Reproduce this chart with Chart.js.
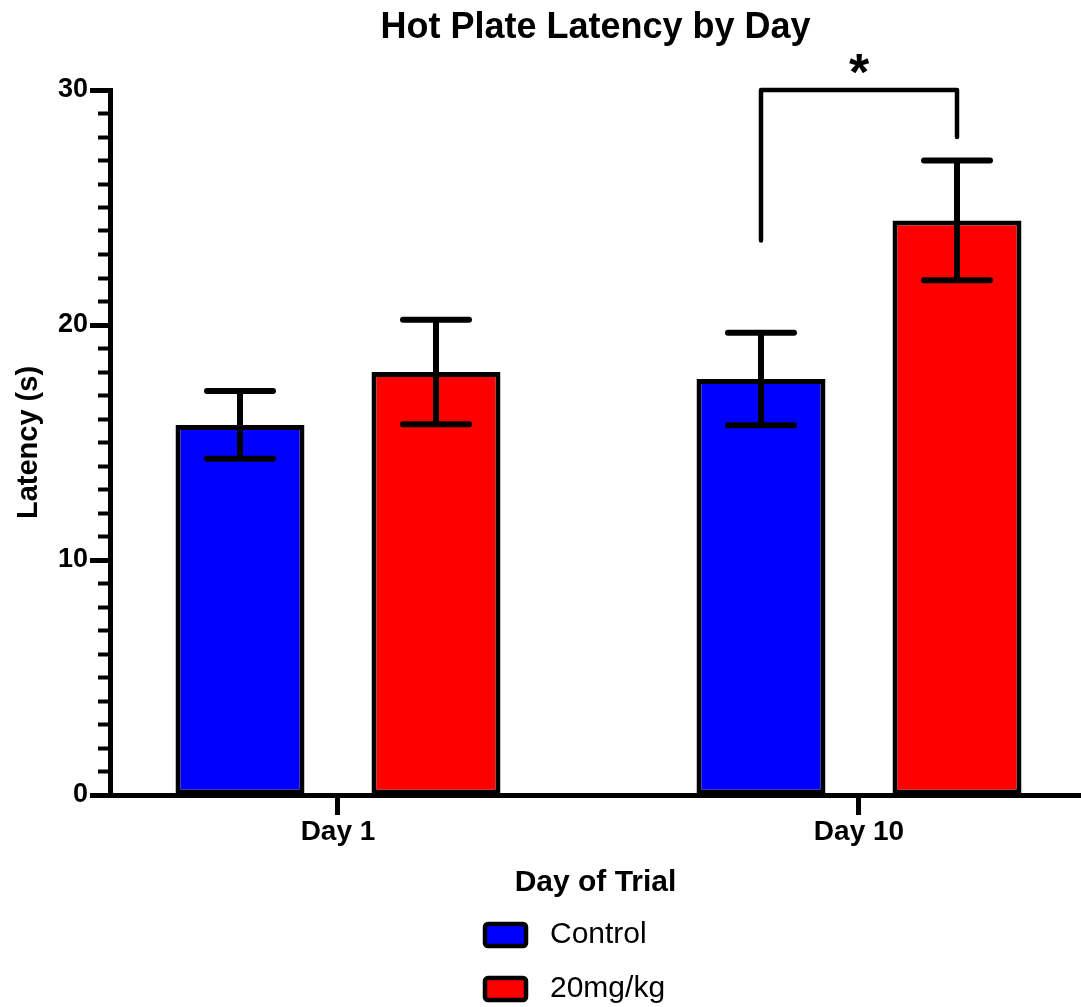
<!DOCTYPE html>
<html>
<head>
<meta charset="utf-8">
<title>Hot Plate Latency by Day</title>
<script src="https://cdn.jsdelivr.net/npm/chart.js@4.4.1/dist/chart.umd.min.js"></script>
<style>
  html, body { margin: 0; padding: 0; background: #fff; overflow: hidden; }
  #chart { display: block; }
</style>
</head>
<body>
<canvas id="chart" width="1081" height="1007"></canvas>
<script>
// data
const categories = ['Day 1', 'Day 10'];
const xPositions = [1, 2];
const seriesNames = ['Control', '20mg/kg'];
const controlMeans = [15.75, 17.7];
const controlSem = [1.44, 1.97];
const drugMeans = [18.0, 24.45];
const drugSem = [2.22, 2.55];
const yMin = 0;
const yMax = 30;
const yMajorStep = 10;
const yMinorStep = 1;

// significance bracket on Day 10 (Control vs 20mg/kg)
const sigCategory = 1;
const sigTop = 30;
const sigFeet = [23.6, 28.0];
const sigLabel = '*';

const FONT = "'Liberation Sans', Arial, Helvetica, sans-serif";
Chart.defaults.font.family = FONT;
Chart.defaults.color = '#000';

const semByDataset = [controlSem, drugSem];

// error bars, drawn over the bars
const errorBars = {
  id: 'errorBars',
  afterDatasetsDraw(chart) {
    const ctx = chart.ctx;
    const y = chart.scales.y;
    ctx.save();
    ctx.strokeStyle = '#000';
    ctx.lineWidth = 6;
    ctx.lineCap = 'round';
    chart.data.datasets.forEach((ds, d) => {
      const meta = chart.getDatasetMeta(d);
      meta.data.forEach((bar, i) => {
        const v = ds.data[i].y;
        const e = semByDataset[d][i];
        const top = y.getPixelForValue(v + e);
        const bot = y.getPixelForValue(v - e);
        ctx.beginPath();
        ctx.moveTo(bar.x, top);
        ctx.lineTo(bar.x, bot);
        ctx.moveTo(bar.x - 33, top);
        ctx.lineTo(bar.x + 33, top);
        ctx.moveTo(bar.x - 33, bot);
        ctx.lineTo(bar.x + 33, bot);
        ctx.stroke();
      });
    });
    ctx.restore();
  }
};

// bracket + star
const sigMark = {
  id: 'sigMark',
  afterDatasetsDraw(chart) {
    const ctx = chart.ctx;
    const y = chart.scales.y;
    const x1 = chart.getDatasetMeta(0).data[sigCategory].x;
    const x2 = chart.getDatasetMeta(1).data[sigCategory].x;
    const yt = y.getPixelForValue(sigTop);
    ctx.save();
    ctx.strokeStyle = '#000';
    ctx.lineWidth = 4.5;
    ctx.lineCap = 'round';
    ctx.lineJoin = 'round';
    ctx.beginPath();
    ctx.moveTo(x1, y.getPixelForValue(sigFeet[0]));
    ctx.lineTo(x1, yt);
    ctx.lineTo(x2, yt);
    ctx.lineTo(x2, y.getPixelForValue(sigFeet[1]));
    ctx.stroke();
    ctx.fillStyle = '#000';
    ctx.font = 'bold 52px ' + FONT;
    ctx.textAlign = 'center';
    ctx.textBaseline = 'alphabetic';
    const m = ctx.measureText(sigLabel);
    const cy = yt - 26;
    const base = cy + (m.actualBoundingBoxAscent - m.actualBoundingBoxDescent) / 2;
    ctx.fillText(sigLabel, (x1 + x2) / 2, base);
    ctx.restore();
  }
};

// legend stacked under the axis title
const stackedLegend = {
  id: 'stackedLegend',
  afterDraw(chart) {
    const ctx = chart.ctx;
    const left = 485;
    const top = 924;
    ctx.save();
    chart.data.datasets.forEach((ds, i) => {
      const by = top + i * 54;
      ctx.beginPath();
      ctx.roundRect(left, by, 41, 22, 3);
      ctx.fillStyle = ds.backgroundColor;
      ctx.fill();
      ctx.lineWidth = 4.5;
      ctx.strokeStyle = '#000';
      ctx.stroke();
      ctx.fillStyle = '#000';
      ctx.font = '30px ' + FONT;
      ctx.textAlign = 'left';
      ctx.textBaseline = 'middle';
      ctx.fillText(ds.label, 550, by + 11);
    });
    ctx.restore();
  }
};

new Chart(document.getElementById('chart'), {
  type: 'bar',
  data: {
    datasets: [
      {
        label: seriesNames[0],
        data: controlMeans.map((v, i) => ({ x: xPositions[i], y: v })),
        backgroundColor: '#0000ff',
        borderColor: '#000',
        borderWidth: 5,
        borderSkipped: false
      },
      {
        label: seriesNames[1],
        data: drugMeans.map((v, i) => ({ x: xPositions[i], y: v })),
        backgroundColor: '#ff0000',
        borderColor: '#000',
        borderWidth: 5,
        borderSkipped: false
      }
    ]
  },
  options: {
    responsive: false,
    animation: false,
    categoryPercentage: 0.7524,
    barPercentage: 0.658,
    layout: { padding: { left: 0, right: 0, top: 0, bottom: 106 } },
    plugins: {
      legend: { display: false },
      tooltip: { enabled: false },
      title: {
        display: true,
        text: 'Hot Plate Latency by Day',
        fullSize: false,
        font: { size: 36, weight: 'bold' },
        color: '#000',
        padding: { top: 6, bottom: 40.8 }
      }
    },
    scales: {
      x: {
        type: 'linear',
        position: 'bottom',
        min: 0.5624,
        max: 2.4261,
        offset: false,
        afterBuildTicks: (s) => { s.ticks = xPositions.map(v => ({ value: v })); },
        afterFit: (s) => { s.height = 106; },
        grid: {
          display: true,
          offset: false,
          drawOnChartArea: false,
          drawTicks: true,
          tickLength: 20,
          tickWidth: 5,
          tickColor: '#000'
        },
        border: { display: true, color: '#000', width: 5 },
        ticks: {
          padding: 0,
          maxRotation: 0,
          autoSkip: false,
          font: { size: 28, weight: 'bold' },
          color: '#000',
          callback: (v) => categories[xPositions.indexOf(v)]
        },
        title: {
          display: true,
          text: 'Day of Trial',
          font: { size: 30, weight: 'bold' },
          color: '#000',
          padding: { top: 0, bottom: 0 }
        }
      },
      y: {
        position: 'left',
        weight: 1,
        min: yMin,
        max: yMax,
        afterFit: (s) => { s.width = 110; },
        grid: {
          display: true,
          drawOnChartArea: false,
          drawTicks: true,
          tickLength: 20,
          tickWidth: 5,
          tickColor: '#000'
        },
        border: { display: true, color: '#000', width: 5 },
        ticks: {
          stepSize: yMajorStep,
          padding: 2,
          font: { size: 27, weight: 'bold' },
          color: '#000'
        },
        title: {
          display: true,
          text: 'Latency (s)',
          font: { size: 29, weight: 'bold' },
          color: '#000',
          padding: { top: 12, bottom: 0 }
        }
      },
      yMinor: {
        position: 'left',
        weight: 0,
        min: yMin,
        max: yMax,
        afterFit: (s) => { s.width = 0; },
        grid: {
          display: true,
          drawOnChartArea: false,
          drawTicks: true,
          tickLength: 12,
          tickWidth: 4,
          tickColor: '#000'
        },
        border: { display: false },
        ticks: { stepSize: yMinorStep, display: false }
      }
    }
  },
  plugins: [errorBars, sigMark, stackedLegend]
});
</script>
</body>
</html>
